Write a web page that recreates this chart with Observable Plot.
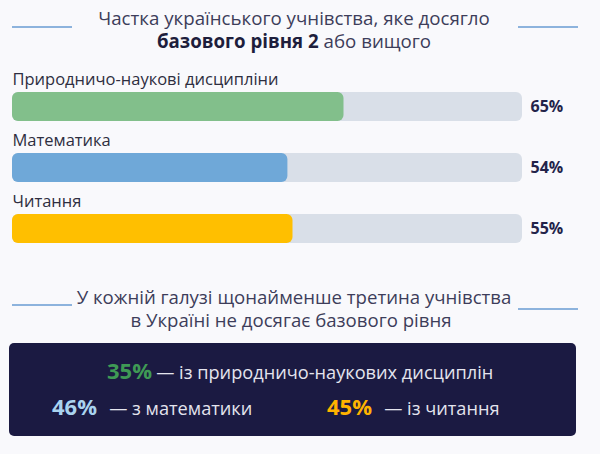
<!DOCTYPE html>
<html>
<head>
<meta charset="utf-8">
<script src="https://cdn.jsdelivr.net/npm/d3@7"></script>
<script src="https://cdn.jsdelivr.net/npm/@observablehq/plot@0.6"></script>
<style>
  html, body { margin: 0; padding: 0; background: #f9f9fc; }
  #wrap { position: relative; width: 600px; height: 454px; font-family: "Open Sans", sans-serif; overflow: hidden; }
  .t { position: absolute; white-space: nowrap; }
  .deco { position: absolute; height: 2px; background: #8db3dd; width: 60px; }
  .title { left: 0; width: 588px; text-align: center; color: #3d3d5a; font-size: 18.7px; line-height: 20px; }
  #chart { position: absolute; left: 0; top: 58px; }
  #box { position: absolute; left: 9px; top: 343px; width: 567px; height: 93px; background: #1b1a42; border-radius: 5px; }
  .num { font-weight: 700; font-size: 22px; }
  .lbl { color: #e4e4ee; font-size: 18.2px; }
</style>
</head>
<body>
<div id="wrap">
  <div class="deco" style="left:12px; top:26px;"></div>
  <div class="deco" style="left:518px; top:26px;"></div>
  <div class="t title" style="top:8px;">Частка українського учнівства, яке досягло</div>
  <div class="t title" style="top:31px;"><b style="color:#1e1e3c">базового рівня 2</b> або вищого</div>
  <div id="chart"></div>
  <div class="deco" style="left:12px; top:304px;"></div>
  <div class="deco" style="left:518px; top:308px;"></div>
  <div class="t title" style="top:287px; font-size:18.6px;">У кожній галузі щонайменше третина учнівства</div>
  <div class="t title" style="top:310px; font-size:18.6px; width:582px;">в Україні не досягає базового рівня</div>
  <div id="box"></div>
</div>
<script>
const categories = ["Природничо-наукові дисципліни", "Математика", "Читання"];
const values = [65, 54, 55];
const barColors = ["#82bf8b", "#6fa8d8", "#ffbf00"];
const notReached = [35, 46, 45];
const notReachedLabels = ["— із природничо-наукових дисциплін", "— з математики", "— із читання"];
const notReachedColors = ["#3f9a55", "#a9d3ef", "#ffb300"];

const data = categories.map((c, i) => ({cat: c, value: values[i], color: barColors[i]}));

const chart = Plot.plot({
  width: 600,
  height: 210,
  marginLeft: 12,
  marginRight: 78,
  marginTop: 17.5,
  marginBottom: 9.5,
  style: {background: "transparent", fontFamily: "'Open Sans', sans-serif", overflow: "visible"},
  x: {domain: [0, 100], axis: null},
  y: {domain: categories, axis: null, padding: 0},
  color: {type: "identity"},
  marks: [
    Plot.barX(data, {y: "cat", x1: 0, x2: 100, fill: "#d9dfe8", rx: 6, insetTop: 16, insetBottom: 16}),
    Plot.barX(data, {y: "cat", x1: 0, x2: "value", fill: "color", rx: 6, insetTop: 16, insetBottom: 16}),
    Plot.text(data, {y: "cat", x: 0, text: "cat", textAnchor: "start", dy: -27, fontSize: 16.5, fill: "#2e2e40"}),
    Plot.text(data, {y: "cat", x: 100, dx: 8, text: d => d.value + "%", textAnchor: "start", fontSize: 16, fontWeight: 700, fill: "#23234a"})
  ]
});
document.getElementById("chart").appendChild(chart);

const box = document.getElementById("box");
const pos = [{left: 98, top: 12, gap: 0}, {left: 43, top: 48, gap: 8}, {left: 318, top: 48, gap: 8}];
notReached.forEach((v, i) => {
  const d = document.createElement("div");
  d.className = "t";
  d.style.left = pos[i].left + "px";
  d.style.top = pos[i].top + "px";
  d.innerHTML = `<span class="num" style="color:${notReachedColors[i]}">${v}%</span> <span class="lbl" style="margin-left:${pos[i].gap}px">${notReachedLabels[i]}</span>`;
  box.appendChild(d);
});
</script>
</body>
</html>
